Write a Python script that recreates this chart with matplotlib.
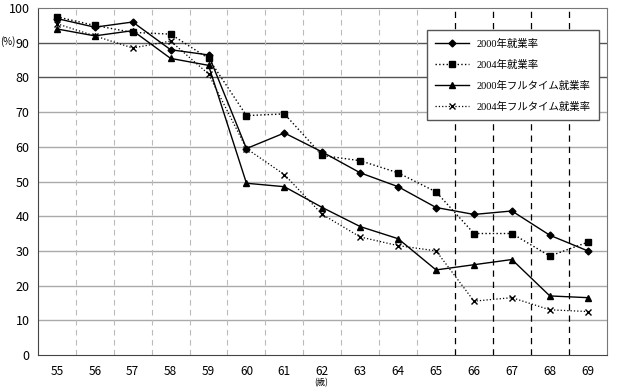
import matplotlib
matplotlib.use('Agg')
import matplotlib.pyplot as plt

plt.rcParams['font.family'] = ['Noto Sans CJK JP', 'DejaVu Sans']

# ages (categories)
ages = ['55', '56', '57', '58', '59', '60', '61', '62', '63', '64', '65', '66', '67', '68', '69']

# employment rates (%)
emp_2000 = [97, 94.5, 96, 88, 86.5, 59.5, 64, 58.5, 52.5, 48.5, 42.5, 40.5, 41.5, 34.5, 30]
emp_2004 = [97.5, 95, 93, 92.5, 85.5, 69, 69.5, 57.5, 56, 52.5, 47, 35, 35, 28.5, 32.5]
full_2000 = [94, 92, 93.5, 85.5, 83.5, 49.5, 48.5, 42.5, 37, 33.5, 24.5, 26, 27.5, 17, 16.5]
full_2004 = [95.5, 92, 88.5, 90.5, 81, 59.5, 52, 40.5, 34, 31.5, 30, 15.5, 16.5, 13, 12.5]

labels = ['2000年就業率', '2004年就業率', '2000年フルタイム就業率', '2004年フルタイム就業率']

fig = plt.figure(figsize=(6.21, 3.87), dpi=100)
ax = fig.add_axes([0.061, 0.083, 0.916, 0.896])

x = list(range(len(ages)))

# horizontal grid
for v in range(10, 100, 10):
    c = '#555555' if v >= 80 else '#aaaaaa'
    ax.axhline(v, color=c, lw=1, zorder=0)

# vertical separators between ages
for i in range(len(ages) - 1):
    b = i + 0.5
    if b > 10:
        ax.axvline(b, color='black', lw=0.9, ls=(0, (5, 4)), zorder=0)
    else:
        ax.axvline(b, color='#bbbbbb', lw=0.8, ls=(0, (5, 4)), zorder=0)

ax.plot(x, emp_2000, color='black', lw=1, marker='D', ms=3.5, label=labels[0])
ax.plot(x, emp_2004, color='black', lw=1, ls=':', marker='s', ms=5, label=labels[1])
ax.plot(x, full_2000, color='black', lw=1, marker='^', ms=5, label=labels[2])
ax.plot(x, full_2004, color='black', lw=0.9, ls=':', marker='x', ms=5, mew=1,
        label=labels[3])

ax.set_xlim(-0.5, len(ages) - 0.5)
ax.set_ylim(0, 100)
ax.set_yticks(range(0, 101, 10))
ax.set_xticks(x)
ax.set_xticklabels(ages)
ax.tick_params(axis='x', length=0, pad=7, labelsize=8.5)
ax.tick_params(axis='y', length=0, pad=6, labelsize=9)

for s in ax.spines.values():
    s.set_color('#777777')
ax.spines['left'].set_color('#444444')
ax.spines['bottom'].set_color('#444444')

leg = ax.legend(loc='upper right', bbox_to_anchor=(0.996, 0.952), fancybox=False,
                edgecolor='#555555', framealpha=1, handlelength=3.2,
                labelspacing=1.05, borderpad=0.8,
                prop={'family': ['Liberation Serif', 'Noto Sans CJK JP'], 'size': 7.5})
leg.get_frame().set_linewidth(1)

fig.text(0.001, 0.893, '(%)', ha='left', va='center', fontsize=7)
fig.text(0.517, 0.0, '(歳)', ha='center', va='bottom', fontsize=6)

fig.savefig('out.png', dpi=100)
